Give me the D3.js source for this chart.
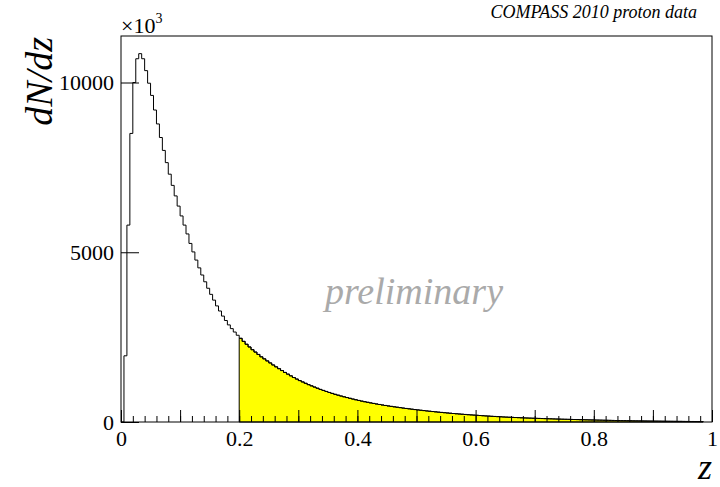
<!DOCTYPE html>
<html>
<head>
<meta charset="utf-8">
<script src="https://cdn.jsdelivr.net/npm/d3@7"></script>
<style>
  body { margin: 0; background: #fff; }
  svg text { font-family: "Liberation Serif", "Times New Roman", Times, "DejaVu Serif", serif !important; }
</style>
</head>
<body>
<div id="plot"></div>
<script>
// dN/dz histogram, bins of 0.005 from z = 0
const binWidth = 0.005;
const cutZ = 0.2;   // yellow region starts here
const counts = [
  0, 1950, 5800, 8500, 10000, 10700, 10850, 10700, 10350, 9980,
  9620, 9190, 8780, 8380, 8000, 7640, 7300, 6970, 6660, 6360,
  6070, 5800, 5540, 5260, 5010, 4770, 4540, 4330, 4130, 3940,
  3760, 3590, 3420, 3270, 3120, 2990, 2860, 2750, 2650, 2555,
  2465, 2375, 2290, 2210, 2130, 2060, 1990, 1920, 1860, 1800,
  1740, 1680, 1625, 1570, 1515, 1460, 1410, 1360, 1310, 1265,
  1220, 1180, 1140, 1100, 1065, 1030, 995, 960, 930, 900,
  870, 842, 815, 790, 765, 742, 720, 698, 676, 655,
  635, 615, 597, 580, 563, 547, 531, 516, 501, 487,
  473, 460, 447, 435, 423, 411, 399, 388, 377, 366,
  356, 346, 336, 326, 317, 308, 299, 290, 282, 274,
  266, 258, 250, 243, 236, 229, 222, 215, 209, 203,
  197, 191, 185, 179, 174, 168, 163, 158, 153, 148,
  144, 140, 136, 132, 128, 124, 120, 117, 114, 111,
  108, 105, 102, 99, 96, 93, 90, 87, 85, 82,
  80, 78, 75, 73, 71, 68, 66, 64, 62, 60,
  58, 56, 54, 52, 50, 48, 46, 44, 42, 40,
  39, 37, 36, 34, 33, 32, 30, 29, 28, 27,
  26, 25, 24, 23, 22, 21, 20, 19, 18, 18,
  17, 16, 15, 15, 14, 13, 12
];

const xLabelTicks = [0, 0.2, 0.4, 0.6, 0.8, 1];
const yLabelTicks = [0, 5000, 10000];

const width = 720, height = 487;
const frame = { left: 121, right: 712, top: 36, bottom: 422 };

const svg = d3.select("#plot").append("svg")
    .attr("width", width)
    .attr("height", height);

svg.append("rect").attr("width", width).attr("height", height).attr("fill", "#fff");

const x = d3.scaleLinear().domain([0, 1]).range([frame.left, frame.right]);
const y = d3.scaleLinear().domain([0, 11370]).range([frame.bottom, frame.top]);

// step outline points for bins [from, to)
function stepPoints(from, to) {
    const pts = [[from * binWidth, 0]];
    for (let i = from; i < to; i++) {
        pts.push([i * binWidth, counts[i]]);
        pts.push([(i + 1) * binWidth, counts[i]]);
    }
    pts.push([to * binWidth, 0]);
    return pts;
}

const line = d3.line().x(d => x(d[0])).y(d => y(d[1]));

// yellow part z > 0.2
const cutBin = Math.round(cutZ / binWidth);
svg.append("path")
    .attr("d", line(stepPoints(cutBin, counts.length)) + "Z")
    .attr("fill", "#ffff00")
    .attr("stroke", "#000")
    .attr("stroke-width", 1);

// full histogram outline
svg.append("path")
    .attr("d", line(stepPoints(0, counts.length)))
    .attr("fill", "none")
    .attr("stroke", "#000")
    .attr("stroke-width", 1);

// x axis ticks (drawn inward)
const xAxisG = svg.append("g").attr("transform", `translate(0,${frame.bottom})`);
xAxisG.append("g")
    .call(d3.axisBottom(x).tickValues(d3.range(0, 51).map(i => i / 50)).tickSize(-6).tickFormat(""));
xAxisG.append("g")
    .call(d3.axisBottom(x).tickValues(d3.range(0, 11).map(i => i / 10)).tickSize(-12).tickFormat(""));
xAxisG.append("g")
    .call(d3.axisBottom(x).tickValues(xLabelTicks).tickSize(0).tickPadding(8)
        .tickFormat(d => (d === 0 || d === 1) ? String(d) : d.toFixed(1)));
xAxisG.selectAll(".domain").remove();
xAxisG.selectAll("g").attr("font-size", null).attr("font-family", null);
xAxisG.selectAll("text").attr("font-size", "22px").attr("fill", "#000");
xAxisG.selectAll("line").attr("stroke", "#000");

// y axis
const yAxisG = svg.append("g").attr("transform", `translate(${frame.left},0)`)
    .call(d3.axisLeft(y).tickValues(yLabelTicks).tickSize(-18).tickPadding(7).tickFormat(d3.format("d")));
yAxisG.select(".domain").remove();
yAxisG.attr("font-size", null).attr("font-family", null);
yAxisG.selectAll("text").attr("font-size", "22px").attr("fill", "#000");
yAxisG.selectAll("line").attr("stroke", "#000");

// frame
svg.append("rect")
    .attr("x", frame.left).attr("y", frame.top)
    .attr("width", frame.right - frame.left)
    .attr("height", frame.bottom - frame.top)
    .attr("fill", "none")
    .attr("stroke", "#000")
    .attr("stroke-width", 1);

// exponent marker
const expo = svg.append("text")
    .attr("x", frame.left)
    .attr("y", 33)
    .attr("font-size", "22px");
expo.append("tspan").text("×10");
expo.append("tspan").attr("font-size", "14px").attr("dy", "-10").text("3");

// axis titles
svg.append("text")
    .attr("transform", "translate(52,37) rotate(-90)")
    .attr("text-anchor", "end")
    .attr("font-size", "38px")
    .attr("font-style", "italic")
    .text("dN/dz");

svg.append("text")
    .attr("x", frame.right)
    .attr("y", 479)
    .attr("text-anchor", "end")
    .attr("font-size", "36px")
    .attr("font-style", "italic")
    .text("z");

svg.append("text")
    .attr("x", 697)
    .attr("y", 18)
    .attr("text-anchor", "end")
    .attr("font-size", "18px")
    .attr("font-style", "italic")
    .text("COMPASS 2010 proton data");

svg.append("text")
    .attr("x", 414)
    .attr("y", 304)
    .attr("text-anchor", "middle")
    .attr("font-size", "38px")
    .attr("font-style", "italic")
    .attr("fill", "#aaaaaa")
    .text("preliminary");
</script>
</body>
</html>
